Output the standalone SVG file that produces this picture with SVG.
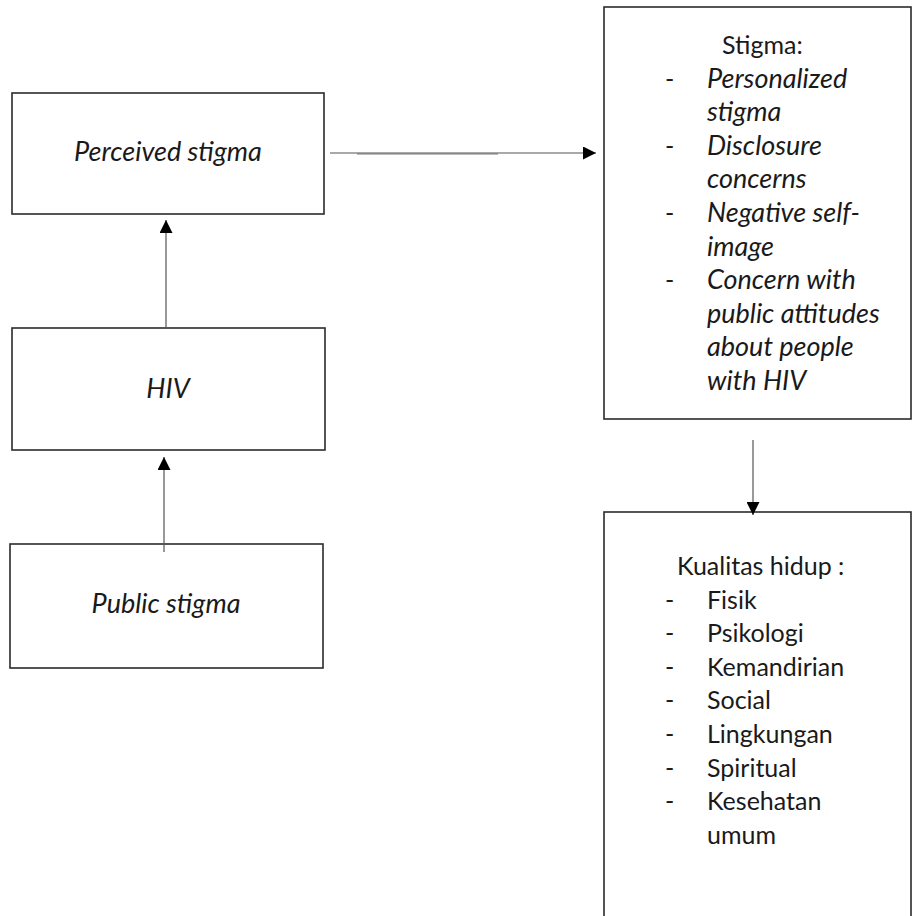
<svg xmlns="http://www.w3.org/2000/svg" width="913" height="916" viewBox="0 0 913 916">
<style>
.box{fill:#fff;stroke:#2b2b2b;stroke-width:1.6}
.t{font-family:Lato,"Liberation Sans",sans-serif;font-size:25px;fill:#1a1a1a}
.i{font-style:italic;font-size:27px}
.mid{text-anchor:middle}
.ln{stroke:#555;stroke-width:1.2;fill:none}
</style>
<defs>
<marker id="ah" markerWidth="13" markerHeight="13" refX="13" refY="6.5" orient="auto" markerUnits="userSpaceOnUse">
<path d="M0,0 L13,6.5 L0,13 Z" fill="#000"/>
</marker>
</defs>
<rect width="913" height="916" fill="#fff"/>
<g id="perceived">
<rect class="box" x="12" y="93" width="312" height="121"/>
<text class="t i mid" x="168" y="161">Perceived stigma</text>
</g>
<g id="hiv">
<rect class="box" x="12" y="328" width="313" height="122"/>
<text class="t i mid" x="168" y="398">HIV</text>
</g>
<g id="public">
<rect class="box" x="10" y="544" width="313" height="124"/>
<text class="t i mid" x="166" y="613">Public stigma</text>
</g>
<g id="stigma">
<rect class="box" x="604" y="7" width="307" height="412"/>
<text class="t" x="722" y="54">Stigma:</text>
<g class="t">
<text x="665" y="87.6">-</text>
<text x="665" y="154.8">-</text>
<text x="665" y="222">-</text>
<text x="665" y="289.2">-</text>
</g>
<g class="t i">
<text x="707" y="87.6">Personalized</text>
<text x="707" y="121.2">stigma</text>
<text x="707" y="154.8">Disclosure</text>
<text x="707" y="188.4">concerns</text>
<text x="707" y="222">Negative self-</text>
<text x="707" y="255.6">image</text>
<text x="707" y="289.2">Concern with</text>
<text x="707" y="322.8">public attitudes</text>
<text x="707" y="356.4">about people</text>
<text x="707" y="390">with HIV</text>
</g>
</g>
<g id="kualitas">
<rect class="box" x="604" y="512" width="307" height="420"/>
<text class="t" x="677" y="575">Kualitas hidup :</text>
<g class="t">
<text x="665" y="608.6">-</text>
<text x="665" y="642.2">-</text>
<text x="665" y="675.8">-</text>
<text x="665" y="709.4">-</text>
<text x="665" y="743">-</text>
<text x="665" y="776.6">-</text>
<text x="665" y="810.2">-</text>
<text x="707" y="608.6">Fisik</text>
<text x="707" y="642.2">Psikologi</text>
<text x="707" y="675.8">Kemandirian</text>
<text x="707" y="709.4">Social</text>
<text x="707" y="743">Lingkungan</text>
<text x="707" y="776.6">Spiritual</text>
<text x="707" y="810.2">Kesehatan</text>
<text x="707" y="843.8">umum</text>
</g>
</g>
<g id="connectors">
<line class="ln" x1="166" y1="328" x2="166" y2="220" marker-end="url(#ah)"/>
<line class="ln" x1="164" y1="552" x2="164" y2="457" marker-end="url(#ah)"/>
<line x1="357" y1="154" x2="498" y2="154" stroke="#bbb" stroke-width="2"/>
<line class="ln" x1="330" y1="153" x2="596" y2="153" marker-end="url(#ah)"/>
<line class="ln" x1="753" y1="440" x2="753" y2="515" marker-end="url(#ah)"/>
</g>
</svg>
